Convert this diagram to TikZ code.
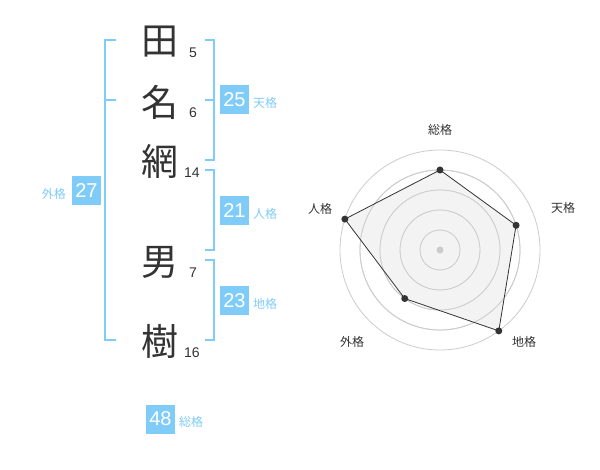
\documentclass[tikz,border=0pt]{standalone}
\usepackage{fontspec}
\setmainfont{Liberation Sans}
\newfontfamily\jp{Noto Sans CJK JP}
\definecolor{kblue}{HTML}{80CCF8}
\definecolor{txt}{HTML}{333333}
\definecolor{ring}{HTML}{CCCCCC}
\definecolor{area}{HTML}{F0F0F0}
\begin{document}
\begin{tikzpicture}[x=1pt,y=-1pt,
  kanji/.style={font=\jp\fontsize{37}{37}\selectfont, text=txt, inner sep=0},
  strokes/.style={font=\fontsize{14}{14}\selectfont, text=txt, inner sep=0},
  scorebox/.style={fill=kblue, text=white, font=\fontsize{20}{20}\selectfont, minimum width=29, minimum height=29, inner sep=0},
  kakulabel/.style={font=\jp\fontsize{12}{12}\selectfont, text=kblue, inner sep=0},
  radarlabel/.style={font=\jp\fontsize{12}{12}\selectfont, text=txt, inner sep=0},
  bracket/.style={draw=kblue, line width=2},
  ringline/.style={draw=ring, line width=0.8},
  dot/.style={circle, fill=txt, inner sep=0, minimum size=7}]
\useasboundingbox[fill=white] (0,0) rectangle (600,470);
% kanji
\node[kanji] (k1) at (160,42) {田};
\node[kanji] (k2) at (160,102) {名};
\node[kanji] (k3) at (160,161) {網};
\node[kanji] (k4) at (160,262) {男};
\node[kanji] (k5) at (160,341) {樹};
% stroke counts
\node[strokes] (s1) at (193,53) {5};
\node[strokes] (s2) at (193,113) {6};
\node[strokes] (s3) at (192,173) {14};
\node[strokes] (s4) at (193,273) {7};
\node[strokes] (s5) at (192,353) {16};
% brackets
\draw[bracket] (116,40) -| (105,340) -- (116,340);
\draw[bracket] (105,100) -- (116,100);
\draw[bracket] (205,40) -| (214,160) -- (205,160);
\draw[bracket] (205,100) -- (214,100);
\draw[bracket] (205,170) -| (214,250) -- (205,250);
\draw[bracket] (205,260) -| (214,340) -- (205,340);
% score boxes
\node[scorebox] (b25) at (234.5,100) {25};
\node[kakulabel, anchor=west] (l25) at (253,103) {天格};
\node[scorebox] (b21) at (234.5,210.5) {21};
\node[kakulabel, anchor=west] (l21) at (253,213.5) {人格};
\node[scorebox] (b23) at (234.5,300.5) {23};
\node[kakulabel, anchor=west] (l23) at (253,303.5) {地格};
\node[scorebox] (b27) at (86.5,190.5) {27};
\node[kakulabel, anchor=east] (l27) at (66,193.5) {外格};
\node[scorebox] (b48) at (160.5,419) {48};
\node[kakulabel, anchor=west] (l48) at (179,422) {総格};
% radar chart
\begin{scope}[shift={(440,250)}, y=1pt]
  \foreach \r in {20,40,60,80,100} \draw[ringline] (0,0) circle (\r);
  \coordinate (p1) at (90:80);
  \coordinate (p2) at (18:80);
  \coordinate (p3) at (-54:100);
  \coordinate (p4) at (-126:60);
  \coordinate (p5) at (162:100);
  \fill[area, opacity=0.75] (p1) -- (p2) -- (p3) -- (p4) -- (p5) -- cycle;
  \foreach \r in {20,40,60,80} \draw[ringline] (0,0) circle (\r);
  \draw[txt, line width=0.8] (p1) -- (p2) -- (p3) -- (p4) -- (p5) -- cycle;
  \node[circle, fill=ring, inner sep=0, minimum size=7] (c) at (0,0) {};
  \foreach \p in {p1,p2,p3,p4,p5} \node[dot] at (\p) {};
  \node[radarlabel] (r1) at (0,120) {総格};
  \node[radarlabel] (r2) at (123,42) {天格};
  \node[radarlabel] (r3) at (84,-92) {地格};
  \node[radarlabel] (r4) at (-88,-92) {外格};
  \node[radarlabel] (r5) at (-120,41) {人格};
\end{scope}
\end{tikzpicture}
\end{document}
